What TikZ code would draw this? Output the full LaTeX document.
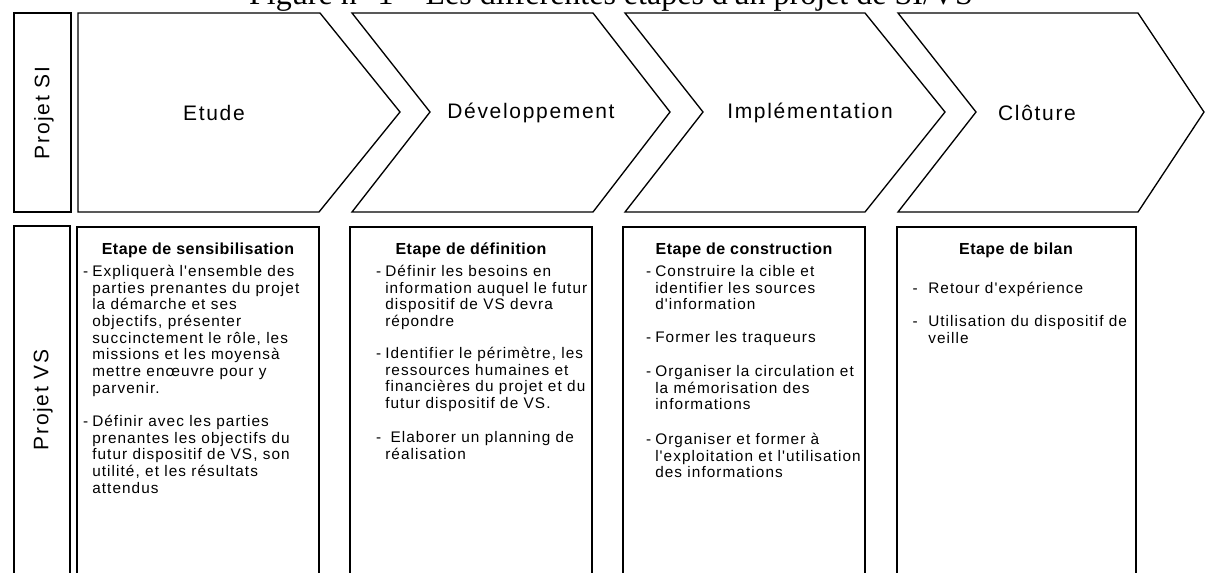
\documentclass[tikz,border=0pt]{standalone}
\usepackage{fontspec}
\setmainfont{Liberation Sans}
\newfontfamily\titlefont{Liberation Serif}
\newfontfamily\bodyfont[LetterSpace=7]{Liberation Sans}
\newfontfamily\bigfont[LetterSpace=8]{Liberation Sans}
\newfontfamily\headfont[LetterSpace=3]{Liberation Sans}
\newcommand\firstln{\rule{0pt}{1em}}
\begin{document}
\begin{tikzpicture}[x=0.75pt,y=-0.75pt,line join=miter]
\tikzset{
  frame/.style={draw=black,line width=1pt},
  boxframe/.style={draw=black,line width=1.2pt},
  stage/.style={font=\bigfont\fontsize{15.75}{18}\selectfont,inner sep=0},
  rowlabel/.style={font=\bigfont\fontsize{15.75}{18}\selectfont,rotate=90,inner sep=0},
  head/.style={font=\headfont\bfseries\fontsize{12}{14}\selectfont,anchor=base,inner sep=0},
  body/.style={font=\bodyfont\fontsize{11.5}{12.5}\selectfont,align=left,anchor=north west,inner sep=0},
}
\useasboundingbox (0,0) rectangle (1206,572);
\clip (0,0) rectangle (1206,572);
% title (cut by the top edge, as in the reference)
\node[font=\titlefont\fontsize{24}{26}\selectfont,anchor=base,inner sep=0] (title) at (611,4) {Figure n° 1 – Les différentes étapes d'un projet de SI/VS};
% row labels
\draw[frame] (14,13) rectangle (71,212);
\node[rowlabel] (si) at (44,113) {Projet SI};
\draw[frame] (14,226) rectangle (70,600);
\node[rowlabel] (vs) at (43,400) {Projet VS};
% chevrons
\draw[frame] (78,13) -- (320,13) -- (400,112) -- (319,212) -- (78,212) -- cycle;
\draw[frame] (352,13) -- (593,13) -- (670,112) -- (593,212) -- (352,212) -- (430,112) -- cycle;
\draw[frame] (625,13) -- (865,13) -- (945,112) -- (865,212) -- (625,212) -- (703,112) -- cycle;
\draw[frame] (898,13) -- (1138,13) -- (1204,112) -- (1138,212) -- (898,212) -- (976,112) -- cycle;
\node[stage] (etude) at (214,113) {Etude};
\node[stage] (dev) at (531,113) {Développement};
\node[stage] (impl) at (810,113) {Implémentation};
\node[stage] (clot) at (1037,113) {Clôture};
% lower boxes
\draw[boxframe] (77,227) rectangle (319,600);
\draw[boxframe] (350,227) rectangle (592,600);
\draw[boxframe] (623,227) rectangle (865,600);
\draw[boxframe] (897,227) rectangle (1136,600);
\node[head] (h1) at (198,254) {Etape de sensibilisation};
\node[head] (h2) at (471,254) {Etape de définition};
\node[head] (h3) at (744,254) {Etape de construction};
\node[head] (h4) at (1016,254) {Etape de bilan};
% column 1
\node[body] (c1a) at (92,261) {\firstln\llap{-\hspace{3pt}}Expliquerà l'ensemble des\\parties prenantes du projet\\la démarche et ses\\objectifs, présenter\\succinctement le rôle, les\\missions et les moyensà\\mettre enœuvre pour y\\parvenir.};
\node[body] (c1b) at (92,411) {\firstln\llap{-\hspace{3pt}}Définir avec les parties\\prenantes les objectifs du\\futur dispositif de VS, son\\utilité, et les résultats\\attendus};
% column 2
\node[body] (c2a) at (385,261) {\firstln\llap{-\hspace{3pt}}Définir les besoins en\\information auquel le futur\\dispositif de VS devra\\répondre};
\node[body] (c2b) at (385,343) {\firstln\llap{-\hspace{3pt}}Identifier le périmètre, les\\ressources humaines et\\financières du projet et du\\futur dispositif de VS.};
\node[body] (c2c) at (385,427) {\firstln\llap{-\hspace{3pt}}~Elaborer un planning de\\réalisation};
% column 3
\node[body] (c3a) at (655,261) {\firstln\llap{-\hspace{3pt}}Construire la cible et\\identifier les sources\\d'information};
\node[body] (c3b) at (655,327) {\firstln\llap{-\hspace{3pt}}Former les traqueurs};
\node[body] (c3c) at (655,361) {\firstln\llap{-\hspace{3pt}}Organiser la circulation et\\la mémorisation des\\informations};
\node[body] (c3d) at (655,429) {\firstln\llap{-\hspace{3pt}}Organiser et former à\\l'exploitation et l'utilisation\\des informations};
% column 4
\node[body] (c4a) at (928,278) {\firstln\llap{-\hspace{8pt}}Retour d'expérience};
\node[body] (c4b) at (928,311) {\firstln\llap{-\hspace{8pt}}Utilisation du dispositif de\\veille};
\end{tikzpicture}
\end{document}
